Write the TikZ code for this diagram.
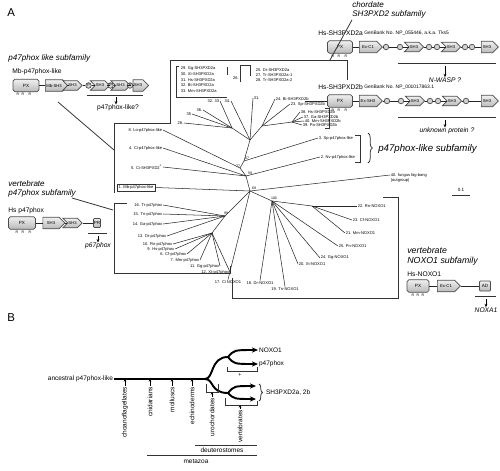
\documentclass[tikz,border=0pt]{standalone}
\usepackage{fontspec}
\setmainfont{Liberation Sans}
\usetikzlibrary{shapes.symbols,arrows.meta,decorations.pathreplacing}

\begin{document}
\begin{tikzpicture}[x=0.02cm, y=-0.02cm,
  tip/.style={font=\fontsize{2.3}{2.6}\selectfont, inner sep=0.3pt},
  fam/.style={font=\fontsize{4.6}{5.4}\selectfont\itshape, inner sep=0pt, align=left},
  prot/.style={font=\fontsize{3.8}{4.4}\selectfont, inner sep=0pt},
  gbk/.style={font=\fontsize{2.8}{3.2}\selectfont, inner sep=0pt},
  blbl/.style={font=\fontsize{3.7}{4.2}\selectfont, inner sep=0.4pt},
  edge/.style={black!85, line width=0.3pt},
  frame/.style={black!80, line width=0.45pt},
  trunk/.style={line width=1.1pt},
  pxdom/.style={draw=black!70, rounded corners=1pt, top color=gray!12, bottom color=gray!55,
    font=\fontsize{2.6}{3}\selectfont, inner sep=0pt, minimum height=0.25cm},
  arrdom/.style={shape=signal, signal to=east, draw=black!70, top color=gray!12, bottom color=gray!55,
    font=\fontsize{2.4}{3}\selectfont, inner sep=0.5pt, minimum height=0.23cm},
  hexdom/.style={arrdom, signal from=west, minimum height=0.19cm},
  pdom/.style={circle, draw=black!70, fill=gray!35, inner sep=0pt, minimum size=0.11cm,
    font=\fontsize{2}{2}\selectfont},
  rres/.style={font=\fontsize{2}{2}\selectfont, inner sep=0pt},
  down/.style={-{Stealth[length=2pt, width=1.6pt]}, line width=0.4pt}]

  \useasboundingbox (0,0) rectangle (500,470);

  % ---------- panel A: headings ----------
  \node[font=\fontsize{6.5}{7}\selectfont, inner sep=0pt, anchor=west] (panA) at (7,13) {A};
  \node[fam, anchor=west] (p47fam) at (8,58) {p47phox like subfamily};
  \node[fam, anchor=west] (chofam) at (352,10) {chordate\\SH3PXD2 subfamily};
  \node[fam, anchor=west, font=\fontsize{5.5}{6}\selectfont\itshape] (p47lfam) at (378,149) {p47phox-like subfamily};
  \node[fam, anchor=west] (vp47fam) at (8,189) {vertebrate\\p47phox subfamily};
  \node[fam, anchor=west, font=\fontsize{5}{6}\selectfont\itshape] (noxfam) at (407,256) {vertebrate\\NOXO1 subfamily};

  % ---------- Mb-p47phox-like domains ----------
  \node[prot, anchor=west] (mbname) at (12,72) {Mb-p47phox-like};
  \node[pxdom, minimum width=0.52cm] (mbpx) at (26,85.5) {PX};
  \node[arrdom, minimum width=0.44cm] (mbsh) at (54,85.5) {Mb-SH3};
  \node[hexdom, minimum width=0.2cm] (mbh1) at (72.5,85.5) {SH3};
  \node[pdom] (mbp1) at (88.5,85.5) {P};
  \node[hexdom, minimum width=0.28cm] (mbh2) at (100,85.5) {SH3};
  \node[pdom] (mbp2) at (110.5,85.5) {P};
  \node[hexdom, minimum width=0.26cm] (mbh3) at (120.5,85.5) {SH3};
  \node[pdom] (mbp3) at (130,85.5) {P};
  \node[arrdom, minimum width=0.22cm] (mbh4) at (138,85.5) {SH3};
  \foreach \a/\b in {mbpx/mbsh, mbsh/mbh1, mbh1/mbp1, mbp1/mbh2, mbh2/mbp2, mbp2/mbh3, mbh3/mbp3, mbp3/mbh4}
    \draw[edge] (\a.east) -- (\b.west);
  \foreach \x [count=\i] in {18,23,30}
    \node[rres] (mbr\i) at (\x,94.5) {R};
  \coordinate (mbu1) at (87,95); \coordinate (mbu2) at (143,95);
  \draw[frame] (mbu1) -- (mbu2);
  \node[prot] (mbq) at (118,108) {p47phox-like?};
  \draw[down] (116,97) -- (mbq.north -| 116,0);

  % ---------- Hs-SH3PXD2a / 2b domains ----------
  \node[prot, anchor=west] (hsa) at (318,33) {Hs-SH3PXD2a};
  \node[gbk, anchor=west] (gba) at (364,33) {GenBank No. NP\_055446, a.k.a. Tks5};
  \node[pxdom, minimum width=0.5cm] (apx) at (340,47) {PX};
  \node[arrdom, minimum width=0.46cm] (aex) at (368,47) {Ex-C1};
  \node[pdom] (ap1) at (386,47) {};
  \node[pdom] (ap2) at (400,47) {};
  \node[hexdom, minimum width=0.3cm] (ah1) at (414,47) {SH3};
  \node[pdom] (ap3) at (429,47) {};
  \node[pdom] (ap4) at (437,47) {};
  \node[hexdom, minimum width=0.28cm] (ah2) at (451,47) {SH3};
  \node[pdom] (ap5) at (465,47) {};
  \node[pdom] (ap6) at (472,47) {};
  \node[arrdom, minimum width=0.34cm] (ah3) at (487,47) {SH3};
  \foreach \a/\b in {apx/aex, aex/ap1, ap1/ap2, ap2/ah1, ah1/ap3, ap3/ap4, ap4/ah2, ah2/ap5, ap5/ap6, ap6/ah3}
    \draw[edge] (\a.east) -- (\b.west);
  \foreach \x [count=\i] in {333,339,346}
    \node[rres] (ar\i) at (\x,56.5) {R};
  \coordinate (au1) at (398,63.5); \coordinate (au2) at (496,63.5);
  \draw[frame] (au1) -- (au2);
  \node[prot, font=\fontsize{3.8}{4.4}\selectfont\itshape] (nwasp) at (445,80) {N-WASP ?};
  \draw[down] (445,66) -- (nwasp.north);

  \node[prot, anchor=west] (hsb) at (318,87) {Hs-SH3PXD2b};
  \node[gbk, anchor=west] (gbb) at (364,87) {GenBank No. NP\_001017863.1};
  \coordinate (bst) at (305,101);
  \node[pxdom, minimum width=0.5cm] (bpx) at (340,101) {PX};
  \node[arrdom, minimum width=0.46cm] (bex) at (368,101) {Ex-SH3};
  \node[pdom] (bp1) at (387,101) {};
  \node[pdom] (bp2) at (401,101) {};
  \node[hexdom, minimum width=0.3cm] (bh1) at (415,101) {SH3};
  \node[pdom] (bp3) at (430,101) {};
  \node[pdom] (bp4) at (438,101) {};
  \node[hexdom, minimum width=0.28cm] (bh2) at (452,101) {SH3};
  \node[pdom] (bp5) at (466,101) {};
  \node[arrdom, minimum width=0.34cm] (bh3) at (487,101) {SH3};
  \draw[edge] (bst) -- (bpx.west);
  \foreach \a/\b in {bpx/bex, bex/bp1, bp1/bp2, bp2/bh1, bh1/bp3, bp3/bp4, bp4/bh2, bh2/bp5, bp5/bh3}
    \draw[edge] (\a.east) -- (\b.west);
  \foreach \x [count=\i] in {333,339,346}
    \node[rres] (br\i) at (\x,110.5) {R};
  \coordinate (bu1) at (398,117); \coordinate (bu2) at (496,117);
  \draw[frame] (bu1) -- (bu2);
  \node[prot, font=\fontsize{3.8}{4.4}\selectfont\itshape] (unkp) at (447,131) {unknown protein ?};
  \draw[down] (445,119.5) -- (unkp.north -| 445,0);

  % ---------- Hs p47phox domains ----------
  \node[prot, anchor=west] (hsp) at (8,211) {Hs p47phox};
  \node[pxdom, minimum width=0.54cm] (ppx) at (22,223) {PX};
  \node[arrdom, minimum width=0.44cm] (psh1) at (51,223) {SH3};
  \node[hexdom, minimum width=0.22cm] (psh2) at (72.5,223) {SH3};
  \node[pxdom, minimum width=0.14cm, minimum height=0.18cm, rounded corners=0.5pt] (ppr) at (97,223) {PR};
  \draw[edge] (ppx.east) -- (psh1.west);
  \draw[edge] (psh1.east) -- (psh2.west);
  \draw[edge] (psh2.east) -- (ppr.west);
  \foreach \x [count=\i] in {17,23,30}
    \node[rres] (pr\i) at (\x,232.5) {R};
  \coordinate (pu1) at (88,233.5); \coordinate (pu2) at (107,233.5);
  \draw[frame] (pu1) -- (pu2);
  \node[prot, font=\fontsize{3.8}{4.4}\selectfont\itshape] (p67) at (98,246) {p67phox};
  \draw[down] (98,236) -- (p67.north);

  % ---------- Hs-NOXO1 domains ----------
  \node[prot, anchor=west] (hsn) at (407,274) {Hs-NOXO1};
  \node[pxdom, minimum width=0.44cm] (npx) at (418,286) {PX};
  \node[arrdom, minimum width=0.46cm] (nex) at (446,286) {Ex-C1};
  \node[pxdom, minimum width=0.22cm, minimum height=0.2cm, rounded corners=0.5pt] (nad) at (485,286) {AD};
  \draw[edge] (npx.east) -- (nex.west);
  \draw[edge] (nex.east) -- (nad.west);
  \foreach \x [count=\i] in {413,418,423}
    \node[rres] (nr\i) at (\x,295) {R};
  \coordinate (nu1) at (475,296); \coordinate (nu2) at (496,296);
  \draw[frame] (nu1) -- (nu2);
  \node[prot, font=\fontsize{3.8}{4.4}\selectfont\itshape] (noxa) at (486,310) {NOXA1};
  \draw[down] (486,298.5) -- (noxa.north);

  % ---------- subfamily frames ----------
  \coordinate (fa) at (114,193); \coordinate (fb) at (114,123); \coordinate (fc) at (170,123);
  \coordinate (fd) at (170,60);  \coordinate (fe) at (347,60);  \coordinate (ff) at (347,80);
  \draw[frame] (fa) -- (fb) -- (fc) -- (fd) -- (fe) -- (ff);
  \draw[frame] (chofam.south west) ++(0,1) coordinate (chp) -- (330,60);
  \coordinate (mbptr) at (58,102); \coordinate (mbend) at (114,150);
  \draw[frame] (mbptr) -- (mbend);
  % vertebrate p47phox frame
  \coordinate (va) at (127,203); \coordinate (vb) at (114,203); \coordinate (vc) at (114,273);
  \coordinate (vd) at (230,273); \coordinate (ve) at (230,266);
  \draw[frame] (va) -- (vb) -- (vc) -- (vd) -- (ve);
  \coordinate (vptr) at (72,198); \coordinate (vend) at (113,210);
  \draw[frame] (vptr) -- (vend);
  % NOXO1 frame
  \coordinate (na) at (383,197); \coordinate (nb) at (398,197); \coordinate (nc) at (398,298);
  \coordinate (nd) at (232,298); \coordinate (ne) at (232,278);
  \draw[frame] (na) -- (nb) -- (nc) -- (nd) -- (ne);
  % p47phox-like bracket and brace
  \draw[frame] (355,135) -- (360,135) -- (360,162) -- (355,162);
  \draw[frame, decorate, decoration={brace, amplitude=2.5pt}] (368,133) -- (368,163);
  % SH3PXD2a list brackets
  \draw[frame] (179,66) -- (176,66) -- (176,97) -- (227,97);
  \draw[frame] (227,67) -- (227,75);
  \draw[frame] (240,82) -- (240,65) -- (250,65) -- (250,76);
  \draw[frame] (325,108) -- (329,108) -- (329,128) -- (325,128);

  % ---------- tree: inner nodes ----------
  \foreach \n/\x/\y in {r0/250/191, nA/246/176, n77/240/168, nB/244/161, nC/250/140, nCa/232/128,
      nCb/262/126, nCc/292/122, nL/272/201, nL1/312/206, nV/225/216, nV1/212/233}
    \coordinate (\n) at (\x,\y);
  \foreach \n/\t/\x/\y in {r0/69/254/188, nA/59/250/173, n77/77/238/166, nB/67/247/158,
      nL/100/274/198, nV/99/226/213}
    \node[tip, font=\fontsize{2}{2}\selectfont] (bs\n) at (\x,\y) {\t};
  \foreach \a/\b in {r0/nA, nA/n77, n77/nB, nB/nC, nC/nCa, nC/nCb, nCb/nCc, r0/nL, nL/nL1, r0/nV, nV/nV1}
    \draw[edge] (\a) -- (\b);

  % tips on the left (label east end)
  \node[tip, draw=black!80, line width=0.35pt, inner sep=1pt] (t1) at (136,187.5) {1. Mb-p47phox-like};
  \draw[edge] (r0) -- (t1.east);
  \foreach \n/\p/\t/\x/\y in {t8/n77/8. Lo-p47phox-like/163/130, t4/nA/4. Ci-p47phox-like/163/148,
      t5/nA/5. Ci-SH3PXD2\textsuperscript{1}/163/167, t16/nV/16. Tr-p47phox/163/205, t15/nV/15. Tn-p47phox/163/214,
      t14/nV/14. Ga-p47phox/163/224, t13/nV/13. Dr-p47phox/167/236, t10/nV1/10. Rn-p47phox/173/244,
      t9/nV1/9. Hs-p47phox/175/249, t6/nV1/6. Cf-p47phox/187/254, t7/nV1/7. Mm-p47phox/200/260,
      t11/nV1/11. Gg-p47phox/220/266, t12/nV1/12. Xt-p47phox/230/272,
      c28/nCa/28./184/123, c35/nCa/35/192/114, c36/nCa/36./203/110, c32/nCa/32. 33/220/101,
      c34/nC/34./231/101}
  {
    \node[tip, anchor=east] (\n) at (\x,\y) {\t};
    \draw[edge] (\p) -- (\n.east);
  }
  % tips on the right (label west end)
  \foreach \n/\p/\t/\x/\y in {t3/nB/3. Sp-p47phox-like/318/138, t2/nA/2. Nv-p47phox-like/320/157,
      t40/r0/40. fungus big-bang/390/175, t22/nL1/22. Rn-NOXO1/357/206, t23/nL1/23. Cf-NOXO1/352/220,
      t21/nL1/21. Mm-NOXO1/345/233, t25/nL/25. Pn-NOXO1/338/246, t24/nL/24. Gg-NOXO1/320/258,
      t20/nL/20. Xt-NOXO1/298/264, c31/nC/31./253/98, b24/nCb/24. Bi-SH3PXD2b/275/99,
      b23/nCb/23. Sp-SH3PXD2b/290/104, b38/nCc/38. Hs-SH3PXD2b/300/112, b37/nCc/37. Ga-SH3PXD2b/303/117,
      b40/nCc/40. Mm-SH3PXD2b/304/121, b39/nCc/39. Pa-SH3PXD2b/302/125}
  {
    \node[tip, anchor=west] (\n) at (\x,\y) {\t};
    \draw[edge] (\p) -- (\n.west);
  }
  \node[tip, anchor=north west] (tout) at (t40.south west) {(outgroup)};
  % tips below (label top)
  \foreach \n/\p/\t/\x/\y in {t19/nL/19. Tn-NOXO1/285/289, t18/nL/18. Dr-NOXO1/260/283,
      t17/r0/17. Ci NOXO1/228/282}
  {
    \node[tip] (\n) at (\x,\y) {\t};
    \draw[edge] (\p) -- (\n.north);
  }
  % SH3PXD2a list
  \foreach \t [count=\i] in {29. Gg-SH3PXD2a, 30. Xt-SH3PXD2a, 31. Hs-SH3PXD2a, 32. Bt-SH3PXD2a, 33. Mm-SH3PXD2a}
    \node[tip, anchor=west] (la\i) at (180,63.5+5.5*\i) {\t};
  \node[tip] (l26) at (236,78) {26.};
  \foreach \t [count=\i] in {25. Dr-SH3PXD2a, 27. Tr-SH3PXD2a-1, 28. Tr-SH3PXD2a-2}
    \node[tip, anchor=west] (lb\i) at (255,65+5*\i) {\t};
  % scale bar
  \coordinate (sb1) at (452,195); \coordinate (sb2) at (470,195);
  \draw[frame] (sb1) -- (sb2);
  \node[tip, font=\fontsize{2.6}{3}\selectfont] (sbl) at (461,190) {0.1};

  % ---------- panel B ----------
  \node[font=\fontsize{6.5}{7}\selectfont, inner sep=0pt, anchor=west] (panB) at (7,318) {B};
  \node[blbl, anchor=east] (anc) at (114,379) {ancestral p47phox-like};
  \coordinate (split) at (205,379);
  \coordinate (upn) at (228,357); \coordinate (lon) at (228,393);
  \draw[trunk] (anc.east) -- (split);
  \draw[trunk] (split) .. controls (214,379) and (210,357) .. (upn);
  \draw[trunk] (split) .. controls (214,379) and (210,393) .. (lon);
  \node[blbl, anchor=west] (noxo) at (258,350) {NOXO1};
  \node[blbl, anchor=west] (p47) at (258,364) {p47phox};
  \coordinate (sha) at (256,386); \coordinate (shb) at (256,399);
  \draw[trunk, -{Stealth[length=3.5pt, width=3pt]}] (upn) .. controls (234,350) .. (noxo.west);
  \draw[trunk, -{Stealth[length=3.5pt, width=3pt]}] (upn) .. controls (234,364) .. (p47.west);
  \draw[trunk, -{Stealth[length=3.5pt, width=3pt]}] (lon) .. controls (234,386) .. (sha);
  \draw[trunk, -{Stealth[length=3.5pt, width=3pt]}] (lon) .. controls (234,399) .. (shb);
  \draw[frame, decorate, decoration={brace, amplitude=2pt}] (259,384) -- (259,401);
  \node[blbl, anchor=west] (shx) at (265,392.5) {SH3PXD2a, 2b};
  % duplication brackets
  \draw[frame] (227,367) -- (227,371) -- (257,371) -- (257,367);
  \node[blbl, font=\fontsize{3}{3}\selectfont] (plus1) at (240,375) {+};
  \draw[frame] (225,398) -- (225,405) -- (257,405) -- (257,401);
  \draw[frame] (206,384) -- (206,392) -- (218,392) -- (218,384);
  % lineages branching off
  \foreach \n/\x/\y/\t/\e in {cho/125/386/choanoflagellates/379, cni/150/386/cnidarians/379,
      mol/172/386/molluscs/379, ech/192/386/echinoderms/379, uro/212/397/urochordates/392,
      ver/240/409/vertebrates/405}
  {
    \node[blbl, rotate=90, anchor=east] (\n) at (\x,\y) {\t};
    \coordinate (\n top) at (\x,\e);
    \draw[-{Stealth[length=1.5pt, width=1.5pt]}, line width=0.3pt] (\n.east) -- (\n top);
  }
  \coordinate (deu1) at (195,445); \coordinate (deu2) at (257,445);
  \draw[frame] (deu1) -- (deu2);
  \node[blbl] (deu) at (222,450) {deuterostomes};
  \coordinate (met1) at (147,455); \coordinate (met2) at (257,455);
  \draw[frame] (met1) -- (met2);
  \node[blbl] (met) at (196,461) {metazoa};
\end{tikzpicture}
\end{document}
